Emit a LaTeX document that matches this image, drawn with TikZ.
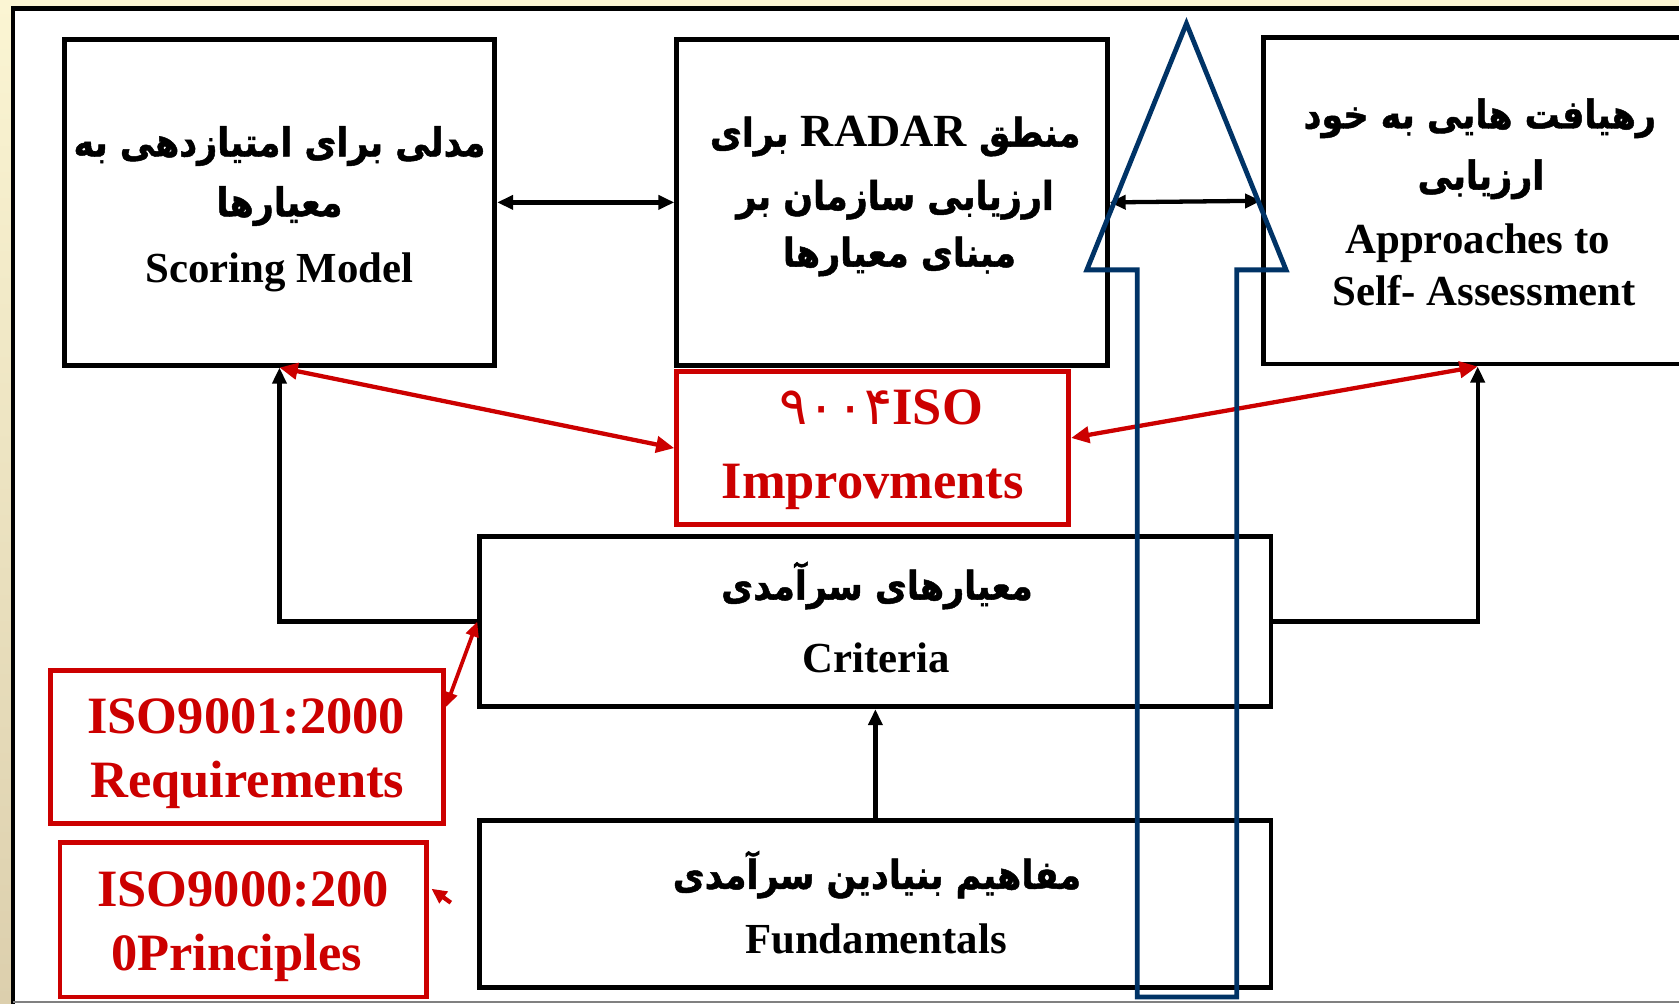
\documentclass[tikz,border=0pt]{standalone}
\usepackage{fontspec}
\setmainfont{Liberation Serif}
\newfontfamily\fa[Script=Arabic, FakeStretch=0.88, BoldFeatures={FakeBold=1.2}]{DejaVu Sans}
\newfontfamily\fadig[Script=Arabic]{DejaVu Sans}
\TeXXeTstate=1
\usetikzlibrary{arrows.meta}
\definecolor{rd}{HTML}{CC0000}
\definecolor{nv}{HTML}{003366}
\definecolor{cream}{HTML}{FBF5D3}
\definecolor{tanc}{HTML}{DCCFAD}
\newcommand\fatxt[1]{{\fa\bfseries\beginR #1\endR}}
\begin{document}
\begin{tikzpicture}[x=1pt,y=-1pt,
  bbox/.style={draw=black, line width=4.5pt, inner sep=0pt, fill=white},
  rbox/.style={draw=rd, line width=4.5pt, inner sep=0pt, fill=white},
  lat/.style={inner sep=0pt, anchor=base, font=\fontsize{40}{48}\selectfont\bfseries},
  rlat/.style={inner sep=0pt, anchor=base, text=rd, font=\fontsize{49}{58}\selectfont\bfseries},
  far/.style={inner sep=0pt, anchor=base, font=\fontsize{37}{44}\selectfont},
  conn/.style={draw=black, line width=4pt, -{Triangle[length=15pt,width=13pt]}},
  connb/.style={draw=black, line width=4pt, {Triangle[length=15pt,width=13pt]}-{Triangle[length=15pt,width=13pt]}},
  rconn/.style={draw=rd, line width=4pt, {Triangle[length=17pt,width=15pt]}-{Triangle[length=17pt,width=15pt]}},
  rthin/.style={draw=rd, line width=3.5pt, {Triangle[length=14pt,width=12pt]}-{Triangle[length=14pt,width=12pt]}},
  bluearrow/.style={draw=nv, line width=4.5pt, line join=miter}
]
\useasboundingbox (0,0) rectangle (1568,937);
\clip (0,0) rectangle (1568,937);
% background
\fill[cream] (0,0) rectangle (1568,937);
\shade[top color=cream, bottom color=tanc] (0,0) rectangle (12,937);
\fill[white] (12,8) rectangle (1600,935.5);
\draw[black, line width=4pt] (12,945) -- (12,8) -- (1600,8);
\draw[gray, line width=1.5pt] (12,935.5) -- (1600,935.5);

% boxes
\node[bbox, minimum width=402pt, minimum height=304pt] (score) at (261,189) {};
\node[bbox, minimum width=402pt, minimum height=304pt] (radar) at (833,189) {};
\node[bbox, minimum width=440pt, minimum height=305pt] (appr) at (1400,187.5) {};
\node[rbox, minimum width=366pt, minimum height=143pt] (iso4) at (815,418.5) {};
\node[bbox, minimum width=739pt, minimum height=159pt] (crit) at (817.5,580.5) {};
\node[bbox, minimum width=739pt, minimum height=156pt] (fund) at (817.5,844) {};
\node[rbox, minimum width=367pt, minimum height=143pt] (iso1) at (230.5,697.5) {};
\node[rbox, minimum width=342pt, minimum height=144pt] (iso0) at (227,859) {};

% connectors
\draw[connb] (score.east) -- (radar.west);
\draw[connb] (radar.east) -- (appr.west);
\draw[conn] (crit.west) -| (score.south);
\draw[conn] (crit.east) -| ([xshift=-20pt]appr.south);
\draw[conn] (fund.north) -- (crit.south);
\draw[rconn] (score.south) -- (iso4.west);
\draw[rconn] ([xshift=-20pt]appr.south) -- ([yshift=9.5pt]iso4.east);
\draw[rthin] ([yshift=37pt]iso1.east) -- (crit.west);
\coordinate (iso0tail) at (421,843);
\draw[draw=rd, line width=4pt, -{Triangle[length=14pt,width=13pt]}] (iso0tail) -- (403,830);

% texts
\node[far] (s1) at (261,146) {\fatxt{مدلی برای امتیازدهی به}};
\node[far] (s2) at (261,202) {\fatxt{معیارها}};
\node[lat] (s3) at (261,264) {Scoring Model};

\node[far] (r1) at (836,137) {\fa\bfseries\beginR منطق \beginL{\rmfamily\fontsize{43}{50}\selectfont\bfseries RADAR}\endL{} برای\endR};
\node[far] (r2) at (836,196) {\fatxt{ارزیابی سازمان بر}};
\node[far] (r3) at (840,249) {\fatxt{مبنای معیارها}};

\node[far] (a1) at (1382,120) {\fatxt{رهیافت هایی به خود}};
\node[far] (a2) at (1383,177) {\fatxt{ارزیابی}};
\node[lat] (a3) at (1380,237) {Approaches to};
\node[lat] (a4) at (1386,285) {Self- Assessment};

\node[rlat] (i41) at (823,396) {{\fadig\mdseries ۹۰۰۴}ISO};
\node[rlat] (i42) at (815,466) {Improvments};

\node[far] (c1) at (819,560) {\fatxt{معیارهای سرآمدی}};
\node[lat] (c2) at (818,628) {Criteria};

\node[far] (f1) at (819,830) {\fatxt{مفاهیم بنیادین سرآمدی}};
\node[lat] (f2) at (818,890) {Fundamentals};

\node[rlat] (i11) at (230,685) {ISO9001:2000};
\node[rlat] (i12) at (231,745) {Requirements};
\node[rlat] (i01) at (227,847) {ISO9000:200};
\node[rlat] (i02) at (221,906.5) {0Principles};

% blue block arrow
\draw[bluearrow] (1062,931) -- (1062,252) -- (1015,252) -- (1108,22) -- (1201,252) -- (1155,252) -- (1155,931) -- cycle;
\end{tikzpicture}
\end{document}
